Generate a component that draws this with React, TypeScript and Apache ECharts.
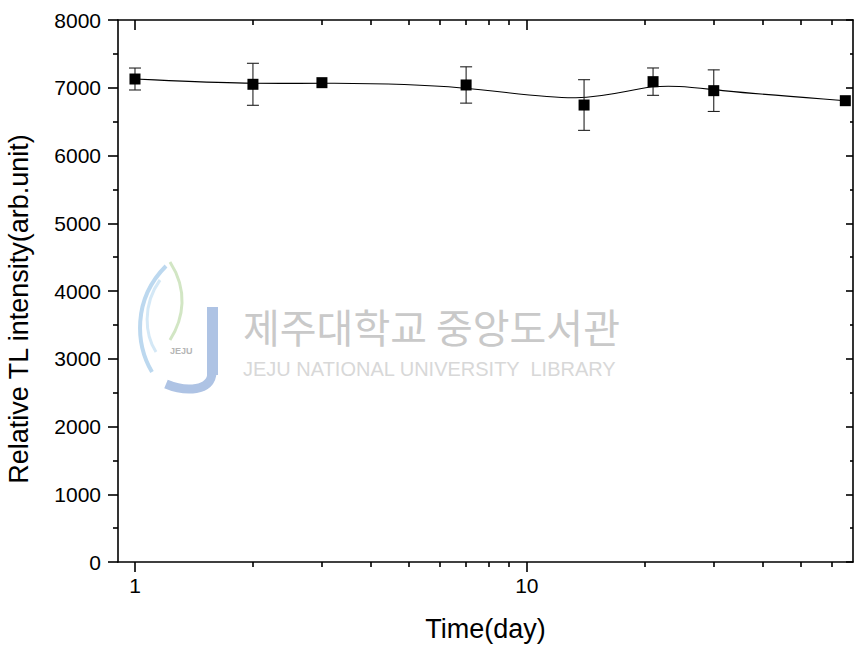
import React, { useEffect, useRef } from "react";
import * as echarts from "echarts";

const days = [1, 2, 3, 7, 14, 21, 30, 65];
const intensity = [7129, 7051, 7075, 7041, 6745, 7090, 6957, 6809];
const errors = [162, 310, 0, 268, 374, 202, 307, 0];
const xMajorTicks = [1, 10];
const xMinorTicks = [2, 3, 4, 5, 6, 7, 8, 9, 20, 30, 40, 50, 60];
const xMin = 0.905;
const xMax = 68;
const yMin = 0;
const yMax = 8000;
const yInterval = 1000;
const xTitle = "Time(day)";
const yTitle = "Relative TL intensity(arb.unit)";
const watermarkKo = "제주대학교 중앙도서관";
const watermarkEn = "JEJU NATIONAL UNIVERSITY  LIBRARY";

const FONT = "'Liberation Sans', Arial, sans-serif";

function bsplinePath(pts: number[][]): string {
  const n = pts.length;
  const c = [pts[0], pts[0], ...pts, pts[n - 1], pts[n - 1]];
  let d = `M${pts[0][0]},${pts[0][1]}`;
  for (let j = 1; j <= c.length - 3; j++) {
    const p1 = c[j], p2 = c[j + 1], p3 = c[j + 2];
    const cp1 = [(2 * p1[0] + p2[0]) / 3, (2 * p1[1] + p2[1]) / 3];
    const cp2 = [(p1[0] + 2 * p2[0]) / 3, (p1[1] + 2 * p2[1]) / 3];
    const end = [(p1[0] + 4 * p2[0] + p3[0]) / 6, (p1[1] + 4 * p2[1] + p3[1]) / 6];
    d += ` C${cp1[0]},${cp1[1]} ${cp2[0]},${cp2[1]} ${end[0]},${end[1]}`;
  }
  return d;
}

export default function App() {
  const ref = useRef<HTMLDivElement>(null);
  useEffect(() => {
    document.body.style.margin = "0";
    const chart = echarts.init(ref.current!, null, { renderer: "svg" });
    const axisLine = { show: true, lineStyle: { color: "#000", width: 1.6 } };
    const baseX = {
      type: "log",
      logBase: 10,
      min: xMin,
      max: xMax,
      splitLine: { show: false },
      gridIndex: 0,
    };
    const points = days.map((d, i) => [d, intensity[i]]);
    const option: any = {
      animation: false,
      backgroundColor: "#fff",
      textStyle: { fontFamily: FONT },
      grid: { left: 118, right: 2, top: 20, bottom: 86, containLabel: false, outerBoundsMode: "none" },
      xAxis: [
        {
          ...baseX,
          position: "bottom",
          axisLine,
          axisTick: { show: true, length: 10, inside: false, customValues: xMajorTicks, lineStyle: { color: "#000", width: 1.6 } },
          axisLabel: { show: true, customValues: xMajorTicks, formatter: (v: number) => String(Math.round(v)), fontSize: 21, color: "#000", margin: 13, fontFamily: FONT },
          name: xTitle,
          nameLocation: "middle",
          nameGap: 53,
          nameTextStyle: { fontSize: 27, color: "#000", fontFamily: FONT },
        },
        {
          ...baseX,
          position: "bottom",
          axisLine: { show: false },
          axisTick: { show: true, length: 5, inside: false, customValues: xMinorTicks, lineStyle: { color: "#000", width: 1.6 } },
          axisLabel: { show: false },
        },
        {
          ...baseX,
          position: "top",
          axisLine,
          axisTick: { show: true, length: 10, inside: true, customValues: xMajorTicks, lineStyle: { color: "#000", width: 1.6 } },
          axisLabel: { show: false },
        },
        {
          ...baseX,
          position: "top",
          axisLine: { show: false },
          axisTick: { show: true, length: 5, inside: true, customValues: xMinorTicks, lineStyle: { color: "#000", width: 1.6 } },
          axisLabel: { show: false },
        },
      ],
      yAxis: [
        {
          type: "value",
          position: "left",
          min: yMin,
          max: yMax,
          interval: yInterval,
          axisLine,
          splitLine: { show: false },
          axisTick: { show: true, length: 10, inside: false, lineStyle: { color: "#000", width: 1.6 } },
          minorTick: { show: true, splitNumber: 2, length: 5, lineStyle: { color: "#000", width: 1.6 } },
          axisLabel: { fontSize: 21, color: "#000", margin: 17, fontFamily: FONT, formatter: (v: number) => String(v) },
          name: yTitle,
          nameLocation: "middle",
          nameGap: 86,
          nameTextStyle: { fontSize: 27, color: "#000", fontFamily: FONT, padding: [0, 36, 0, 0] },
        },
        {
          type: "value",
          position: "right",
          min: yMin,
          max: yMax,
          interval: yInterval,
          axisLine,
          splitLine: { show: false },
          axisTick: { show: true, length: 7, inside: true, lineStyle: { color: "#000", width: 1.6 } },
          minorTick: { show: true, splitNumber: 2, length: 3, lineStyle: { color: "#000", width: 1.6 } },
          axisLabel: { show: false },
        },
      ],
      graphic: [
        { type: "text", left: 243, top: 306, z: 0, style: { text: watermarkKo, fontSize: 40, lineHeight: 40, fontFamily: "'Noto Sans CJK KR'", fill: "#c9c9c9" } },
        { type: "text", left: 243, top: 359, z: 0, style: { text: watermarkEn, fontSize: 20, lineHeight: 18, fontFamily: FONT, fill: "#d8d8d8" } },
        { type: "rect", shape: { x: 207, y: 307, width: 11, height: 68 }, style: { fill: "#aec3e4" }, z: 0 },
        { type: "bezierCurve", shape: { x1: 212, y1: 372, cpx1: 212, cpy1: 392, cpx2: 185, cpy2: 392, x2: 166, y2: 384 }, style: { stroke: "#aec3e4", lineWidth: 9, fill: "none" }, z: 0 },
        { type: "bezierCurve", shape: { x1: 166, y1: 266, cpx1: 132, cpy1: 300, cpx2: 136, cpy2: 345, x2: 152, y2: 372 }, style: { stroke: "#bcd8ef", lineWidth: 4, fill: "none" }, z: 0 },
        { type: "bezierCurve", shape: { x1: 160, y1: 280, cpx1: 142, cpy1: 305, cpx2: 145, cpy2: 335, x2: 156, y2: 352 }, style: { stroke: "#d4e8f6", lineWidth: 3, fill: "none" }, z: 0 },
        { type: "bezierCurve", shape: { x1: 170, y1: 262, cpx1: 188, cpy1: 290, cpx2: 184, cpy2: 318, x2: 170, y2: 340 }, style: { stroke: "#d2e6c4", lineWidth: 3, fill: "none" }, z: 0 },
        { type: "text", left: 170, top: 346, z: 0, style: { text: "JEJU", fontSize: 9, fontWeight: "bold", fontFamily: FONT, fill: "#b5b5b5" } },
      ],
      series: [
        {
          type: "custom",
          name: "fit",
          xAxisIndex: 0,
          yAxisIndex: 0,
          z: 3,
          data: points,
          renderItem: (params: any, api: any) => {
            if (params.dataIndex !== 0) return null;
            const pts = days.map((d, i) => api.coord([d, intensity[i]]));
            return {
              type: "path",
              shape: { pathData: bsplinePath(pts) },
              style: { stroke: "#000", fill: "none", lineWidth: 1.1 },
            };
          },
        },
        {
          type: "custom",
          name: "error",
          xAxisIndex: 0,
          yAxisIndex: 0,
          z: 4,
          data: days.map((d, i) => [d, intensity[i] - errors[i], intensity[i] + errors[i]]),
          renderItem: (params: any, api: any) => {
            const lo = api.value(1);
            const hi = api.value(2);
            if (lo === hi) return null;
            const a = api.coord([api.value(0), lo]);
            const b = api.coord([api.value(0), hi]);
            const w = 6;
            const st = { stroke: "#222", lineWidth: 1.1 };
            return {
              type: "group",
              children: [
                { type: "line", shape: { x1: a[0], y1: a[1], x2: b[0], y2: b[1] }, style: st },
                { type: "line", shape: { x1: a[0] - w, y1: a[1], x2: a[0] + w, y2: a[1] }, style: st },
                { type: "line", shape: { x1: b[0] - w, y1: b[1], x2: b[0] + w, y2: b[1] }, style: st },
              ],
            };
          },
        },
        {
          type: "scatter",
          name: "data",
          xAxisIndex: 0,
          yAxisIndex: 0,
          z: 5,
          symbol: "rect",
          symbolSize: 11,
          itemStyle: { color: "#000", opacity: 1 },
          data: points,
        },
      ],
    };
    chart.setOption(option);
    return () => chart.dispose();
  }, []);
  return <div ref={ref} style={{ width: 855, height: 648 }} />;
}
